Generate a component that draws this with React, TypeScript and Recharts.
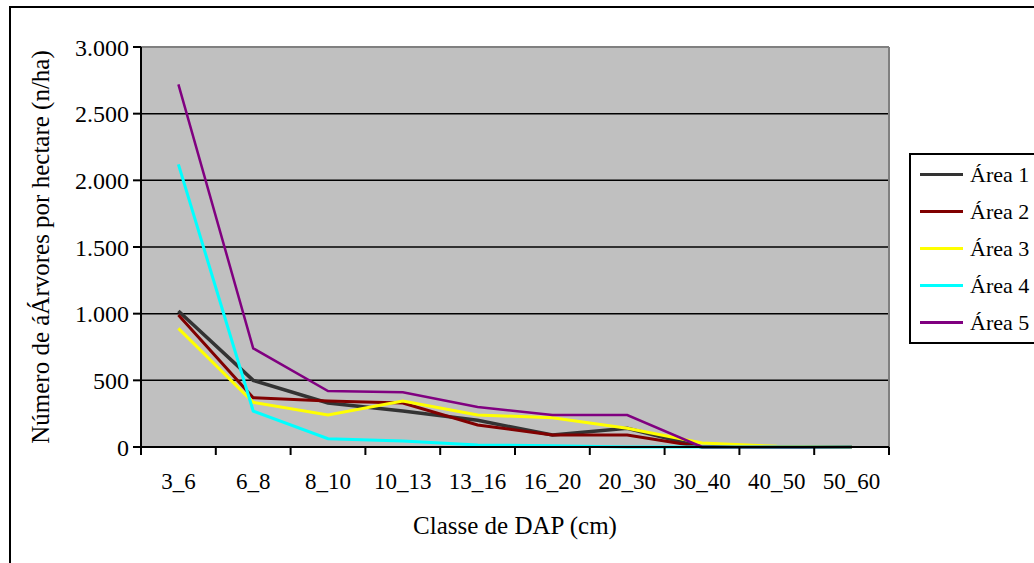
import React from 'react';
import { LineChart, Line, XAxis, YAxis, CartesianGrid, Legend } from 'recharts';

const categories = ['3_6', '6_8', '8_10', '10_13', '13_16', '16_20', '20_30', '30_40', '40_50', '50_60'];
const area1 = [1020, 500, 330, 270, 200, 90, 140, 0, 0, 0];
const area2 = [990, 370, 345, 330, 165, 90, 90, 0, 0, 0];
const area3 = [890, 335, 240, 345, 240, 220, 140, 30, 5, 0];
const area4 = [2120, 270, 62, 45, 15, 10, 0, 0, 0, 0];
const area5 = [2720, 740, 420, 410, 300, 240, 240, 0, 0, 0];
const yTicks = [0, 500, 1000, 1500, 2000, 2500, 3000];

const seriesNames = ['Área 1', 'Área 2', 'Área 3', 'Área 4', 'Área 5'];
const seriesColors = ['#333333', '#800000', '#ffff00', '#00ffff', '#800080'];
const seriesWidths = [3.5, 3, 3, 3, 2.5];
const seriesValues = [area1, area2, area3, area4, area5];

const data = categories.map((c, i) => {
  const row: any = { cat: c };
  seriesNames.forEach((n, k) => {
    row[n] = seriesValues[k][i];
  });
  return row;
});

const FONT = '"Liberation Serif", "Times New Roman", serif';
const TICK_SIZE = 8;
const TICK_MARGIN = 22;

const fmt = (v: number) => v.toLocaleString('de-DE');

const XTick = (props: any) => {
  const { x, y, payload, index } = props;
  const half = payload.offset || 0;
  const top = y - TICK_SIZE - TICK_MARGIN;
  return (
    <g>
      <line x1={x - half} x2={x - half} y1={top} y2={top + TICK_SIZE} stroke="#000" strokeWidth={2} />
      {index === categories.length - 1 && (
        <line x1={x + half} x2={x + half} y1={top} y2={top + TICK_SIZE} stroke="#000" strokeWidth={2} />
      )}
      <text x={x} y={y + 12} textAnchor="middle" fill="#000" fontSize={23} fontFamily={FONT}>
        {payload.value}
      </text>
    </g>
  );
};

const LegendBox = () => (
  <div
    style={{
      border: '2px solid #000',
      background: '#fff',
      width: 140,
      height: 191,
      boxSizing: 'border-box',
      paddingTop: 1,
      fontFamily: FONT,
    }}
  >
    {seriesNames.map((n, i) => (
      <div key={n} style={{ display: 'flex', alignItems: 'center', height: 37 }}>
        <div style={{ width: 43, height: 3, background: seriesColors[i], marginLeft: 9, marginRight: 7 }} />
        <span style={{ fontSize: 22, color: '#000' }}>{n}</span>
      </div>
    ))}
  </div>
);

export default function App() {
  return (
    <div style={{ position: 'fixed', left: 0, top: 0, width: 1034, height: 563, overflow: 'hidden', background: '#fff' }}>
      <div
        style={{
          position: 'absolute',
          left: 9,
          top: 6,
          width: 1100,
          height: 700,
          border: '2px solid #000',
          boxSizing: 'border-box',
        }}
      />
      <div style={{ position: 'absolute', left: 0, top: 0 }}>
        <LineChart width={1034} height={563} data={data} margin={{ top: 47, right: 5, bottom: 56, left: 61 }}>
          <CartesianGrid
            vertical={false}
            fill="#c0c0c0"
            fillOpacity={1}
            stroke="#000"
            strokeWidth={1.5}
          />
          <CartesianGrid
            horizontal={true}
            vertical={true}
            horizontalCoordinatesGenerator={({ offset }: any) => [offset.top]}
            verticalCoordinatesGenerator={({ offset }: any) => [offset.left + offset.width]}
            stroke="#808080"
            strokeWidth={2}
          />
          <XAxis
            dataKey="cat"
            scale="band"
            height={60}
            axisLine={{ stroke: '#000', strokeWidth: 2 }}
            tickLine={false}
            tickSize={TICK_SIZE}
            tickMargin={TICK_MARGIN}
            interval={0}
            tick={<XTick />}
            label={{
              value: 'Classe de DAP (cm)',
              position: 'bottom',
              offset: 9,
              fill: '#000',
              fontSize: 25,
              fontFamily: FONT,
            }}
          />
          <YAxis
            width={80}
            domain={[0, 3000]}
            ticks={yTicks}
            interval={0}
            tickFormatter={fmt}
            axisLine={{ stroke: '#000', strokeWidth: 2 }}
            tickLine={{ stroke: '#000', strokeWidth: 2 }}
            tickSize={8}
            tickMargin={4}
            tick={{ fill: '#000', fontSize: 24, fontFamily: FONT }}
            label={{
              content: ({ viewBox }: any) => {
                const cx = viewBox.x - 21;
                const cy = viewBox.y + viewBox.height / 2;
                return (
                  <text
                    x={cx}
                    y={cy}
                    transform={`rotate(-90, ${cx}, ${cy})`}
                    textAnchor="middle"
                    dominantBaseline="central"
                    fill="#000"
                    fontSize={25}
                    fontFamily={FONT}
                  >
                    Número de áÁrvores por hectare (n/ha)
                  </text>
                );
              },
            }}
          />
          {seriesNames.map((n, i) => (
            <Line
              key={n}
              type="linear"
              dataKey={n}
              stroke={seriesColors[i]}
              strokeWidth={seriesWidths[i]}
              dot={false}
              activeDot={false}
              isAnimationActive={false}
            />
          ))}
          <Legend
            layout="vertical"
            align="right"
            verticalAlign="top"
            content={<LegendBox />}
            wrapperStyle={{ left: 909, top: 153, width: 140 }}
          />
        </LineChart>
      </div>
    </div>
  );
}
